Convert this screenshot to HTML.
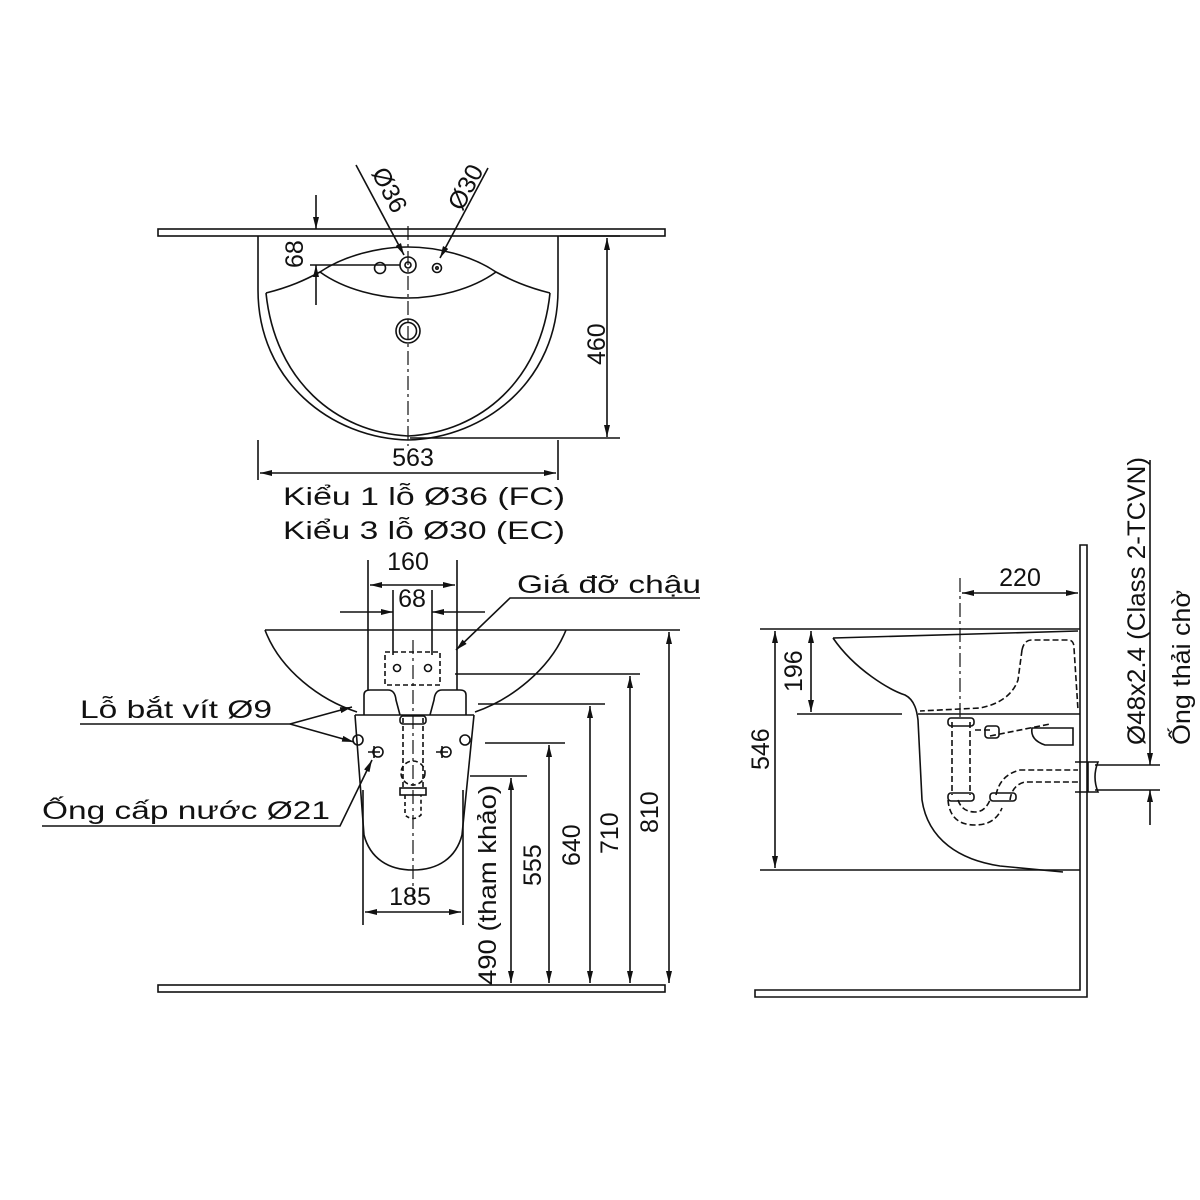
<!DOCTYPE html>
<html><head><meta charset="utf-8"><style>
html,body{margin:0;padding:0;background:#fff;}
svg{display:block;}
text{font-family:"Liberation Sans","DejaVu Sans",sans-serif;fill:#111;}
</style></head><body>
<svg width="1200" height="1200" viewBox="0 0 1200 1200" xmlns="http://www.w3.org/2000/svg">
<defs>
<marker id="a" viewBox="0 0 12 6" refX="12" refY="3" markerWidth="12" markerHeight="6" orient="auto-start-reverse" markerUnits="userSpaceOnUse">
<path d="M0,0 L12,3 L0,6 Z" fill="#111"/></marker>
</defs>
<g fill="none" stroke="#111" stroke-width="1.6">
<!-- ===== TOP VIEW ===== -->
<rect x="158" y="229" width="507" height="7"/>
<path d="M258,236 V290 C258,380 330,438 408,440 C486,438 558,380 558,290 V236"/>
<path d="M266,293 C275,380 335,432 408,436 C481,432 541,380 550,293"/>
<path d="M266,293 C290,287 305,280 320,272 C345,255 380,247 408,247 C436,247 471,255 496,272 C511,280 526,287 550,293"/>
<path d="M320,272 C345,290 380,298 408,298 C436,298 471,290 496,272"/>
<circle cx="380" cy="268" r="5.5"/>
<circle cx="408" cy="265" r="8"/><circle cx="408" cy="265" r="3"/>
<circle cx="437" cy="268" r="4.5"/><circle cx="437" cy="268" r="1.2"/>
<circle cx="408" cy="331" r="12"/><circle cx="408" cy="331" r="8.5"/>
<line x1="408" y1="226" x2="408" y2="446" stroke-width="1.2" stroke-dasharray="14,4,3,4"/>
<line x1="356" y1="165" x2="404" y2="255" marker-end="url(#a)"/>
<line x1="488" y1="168" x2="440" y2="258" marker-end="url(#a)"/>
<!-- 68 -->
<line x1="316" y1="195" x2="316" y2="229" marker-end="url(#a)"/>
<line x1="316" y1="305" x2="316" y2="265" marker-end="url(#a)"/>
<line x1="310" y1="265" x2="400" y2="265"/>
<!-- 460 -->
<line x1="607" y1="238" x2="607" y2="437" marker-start="url(#a)" marker-end="url(#a)"/>
<line x1="560" y1="236" x2="620" y2="236"/>
<line x1="410" y1="438" x2="620" y2="438"/>
<!-- 563 -->
<line x1="258" y1="440" x2="258" y2="480"/>
<line x1="558" y1="440" x2="558" y2="480"/>
<line x1="260" y1="473" x2="556" y2="473" marker-start="url(#a)" marker-end="url(#a)"/>

<!-- ===== FRONT VIEW ===== -->
<rect x="158" y="985" width="507" height="7"/>
<line x1="265" y1="630" x2="680" y2="630"/>
<path d="M265,630 C280,670 320,700 357,712"/>
<path d="M566,630 C550,670 510,700 475,712"/>
<line x1="355" y1="715" x2="474" y2="715"/>
<path d="M355,715 L364,835 C370,858 388,870 413,870 C438,870 456,858 462,835 L474,715"/>
<path d="M364,715 V695 Q364,690 370,690 H388 Q395,690 396,700 L400,715"/>
<path d="M466,715 V695 Q466,690 460,690 H442 Q435,690 434,700 L430,715"/>
<rect x="385" y="652" width="55" height="33" stroke-dasharray="5,3"/>
<circle cx="397" cy="668" r="3.5"/><circle cx="428" cy="668" r="3.5"/>
<line x1="413" y1="640" x2="413" y2="900" stroke-width="1.2" stroke-dasharray="14,4,3,4"/>
<path d="M403,718 V790 M423,718 V790" stroke-dasharray="5,3"/>
<rect x="400" y="716" width="26" height="8" rx="3"/>
<rect x="400" y="788" width="26" height="7"/>
<circle cx="413" cy="773" r="12" stroke-dasharray="5,3"/>
<path d="M405,795 V815 Q413,822 421,815 V795" stroke-dasharray="4,3"/>
<path d="M374,752 m-6,0 h12 m-6,-6 v12" /><circle cx="378" cy="752" r="5"/>
<path d="M442,752 m-6,0 h12 m-6,-6 v12"/><circle cx="446" cy="752" r="5"/>
<circle cx="358" cy="740" r="5"/><circle cx="465" cy="740" r="5"/>
<!-- 160 -->
<line x1="368" y1="560" x2="368" y2="690"/><line x1="457" y1="560" x2="457" y2="690"/>
<line x1="370" y1="585" x2="455" y2="585" marker-start="url(#a)" marker-end="url(#a)"/>
<!-- 68 -->
<line x1="393" y1="590" x2="393" y2="655"/><line x1="432" y1="590" x2="432" y2="655"/>
<line x1="340" y1="612" x2="393" y2="612" marker-end="url(#a)"/>
<line x1="485" y1="612" x2="432" y2="612" marker-end="url(#a)"/>
<!-- 185 -->
<line x1="363" y1="790" x2="363" y2="925"/><line x1="463" y1="790" x2="463" y2="925"/>
<line x1="365" y1="912" x2="461" y2="912" marker-start="url(#a)" marker-end="url(#a)"/>
<!-- heights -->
<line x1="455" y1="674" x2="640" y2="674"/>
<line x1="478" y1="704" x2="605" y2="704"/>
<line x1="485" y1="743" x2="565" y2="743"/>
<line x1="470" y1="776" x2="527" y2="776"/>
<line x1="511" y1="778" x2="511" y2="983" marker-start="url(#a)" marker-end="url(#a)"/>
<line x1="549" y1="745" x2="549" y2="983" marker-start="url(#a)" marker-end="url(#a)"/>
<line x1="590" y1="706" x2="590" y2="983" marker-start="url(#a)" marker-end="url(#a)"/>
<line x1="630" y1="676" x2="630" y2="983" marker-start="url(#a)" marker-end="url(#a)"/>
<line x1="669" y1="632" x2="669" y2="983" marker-start="url(#a)" marker-end="url(#a)"/>
<!-- leaders -->
<polyline points="700,598 510,598 456,650" marker-end="url(#a)" fill="none"/>
<line x1="80" y1="724" x2="290" y2="724"/>
<line x1="290" y1="724" x2="352" y2="707" marker-end="url(#a)"/>
<line x1="290" y1="724" x2="354" y2="742" marker-end="url(#a)"/>
<polyline points="42,826 340,826 372,760" marker-end="url(#a)"/>

<!-- ===== SIDE VIEW ===== -->
<path d="M1080,545 V990 H755 V997 H1087 V545 Z"/>
<line x1="760" y1="629" x2="1080" y2="629"/>
<line x1="760" y1="870" x2="1080" y2="870"/>
<line x1="797" y1="714" x2="902" y2="714"/>
<path d="M833,638 L1078,631"/>
<path d="M833,638 C855,670 890,690 905,695 C915,700 917,712 918,720 L922,800 C928,840 960,860 1000,866 L1063,872"/>
<line x1="918" y1="714" x2="1080" y2="714"/>
<line x1="960" y1="578" x2="960" y2="720" stroke-dasharray="14,4,3,4" stroke-width="1.2"/>
<line x1="962" y1="593" x2="1078" y2="593" marker-start="url(#a)" marker-end="url(#a)"/>
<line x1="811" y1="631" x2="811" y2="712" marker-start="url(#a)" marker-end="url(#a)"/>
<line x1="775" y1="631" x2="775" y2="868" marker-start="url(#a)" marker-end="url(#a)"/>
<g stroke-dasharray="6,3">
<path d="M1022,650 Q1024,640 1032,640 H1068 Q1074,640 1074,648 L1078,710"/>
<path d="M1022,650 L1018,680 Q1010,702 980,708 L920,711"/>
<path d="M952,722 V795 M970,722 V795"/>
<path d="M948,800 Q950,825 975,825 Q995,825 1002,808"/>
<path d="M958,800 Q962,812 975,812 Q985,812 990,800"/>
<path d="M996,795 Q1000,775 1020,770 H1078 M1010,800 Q1012,785 1025,782 H1078"/>
<path d="M975,730 H990 M990,736 L1050,724"/>
</g>
<rect x="948" y="718" width="26" height="8" rx="3"/>
<rect x="948" y="793" width="26" height="8" rx="3"/>
<rect x="990" y="793" width="26" height="8" rx="3"/>
<rect x="985" y="726" width="14" height="12" rx="3"/>
<path d="M1032,728 H1073 V745 H1045 Q1030,740 1032,728 Z"/>
<path d="M1075,762 H1098 Q1092,777 1098,792 H1075 M1088,762 V792"/>
<line x1="1095" y1="765" x2="1160" y2="765"/>
<line x1="1095" y1="790" x2="1160" y2="790"/>
<line x1="1150" y1="460" x2="1150" y2="765" marker-end="url(#a)"/>
<line x1="1150" y1="825" x2="1150" y2="790" marker-end="url(#a)"/>
</g>

<!-- TEXT -->
<g font-size="25">
<text x="0" y="0" transform="translate(371,173) rotate(62)">Ø36</text>
<text x="0" y="0" transform="translate(462,212) rotate(-62)">Ø30</text>
<text x="0" y="0" transform="translate(303,268) rotate(-90)">68</text>
<text x="0" y="0" transform="translate(605,365) rotate(-90)">460</text>
<text x="413" y="466" text-anchor="middle">563</text>
<text x="283" y="505" textLength="282" lengthAdjust="spacingAndGlyphs">Kiểu 1 lỗ Ø36 (FC)</text>
<text x="283" y="539" textLength="282" lengthAdjust="spacingAndGlyphs">Kiểu 3 lỗ Ø30 (EC)</text>
<text x="408" y="570" text-anchor="middle">160</text>
<text x="412" y="607" text-anchor="middle">68</text>
<text x="410" y="905" text-anchor="middle">185</text>
<text x="517" y="593" textLength="184" lengthAdjust="spacingAndGlyphs">Giá đỡ chậu</text>
<text x="80" y="718" textLength="192" lengthAdjust="spacingAndGlyphs">Lỗ bắt vít Ø9</text>
<text x="42" y="819" textLength="288" lengthAdjust="spacingAndGlyphs">Ống cấp nước Ø21</text>
<text x="0" y="0" transform="translate(496,985) rotate(-90)" textLength="200" lengthAdjust="spacingAndGlyphs">490 (tham khảo)</text>
<text x="0" y="0" transform="translate(541,886) rotate(-90)">555</text>
<text x="0" y="0" transform="translate(580,866) rotate(-90)">640</text>
<text x="0" y="0" transform="translate(618,854) rotate(-90)">710</text>
<text x="0" y="0" transform="translate(658,833) rotate(-90)">810</text>
<text x="1020" y="586" text-anchor="middle">220</text>
<text x="0" y="0" transform="translate(802,692) rotate(-90)">196</text>
<text x="0" y="0" transform="translate(769,770) rotate(-90)">546</text>
<text x="0" y="0" transform="translate(1145,745) rotate(-90)" textLength="288" lengthAdjust="spacingAndGlyphs">Ø48x2.4 (Class 2-TCVN)</text>
<text x="0" y="0" transform="translate(1190,745) rotate(-90)" textLength="155" lengthAdjust="spacingAndGlyphs">Ống thải chờ</text>
</g>
</svg>
</body></html>
